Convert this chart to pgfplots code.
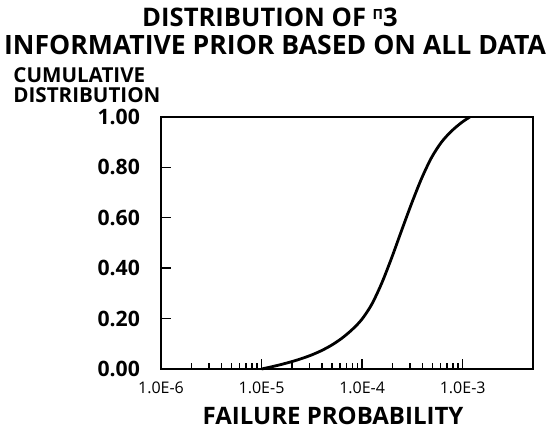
\documentclass[border=0pt]{standalone}
\usepackage{fontspec}
\setmainfont{Open Sans}
\usepackage{pgfplots}
\pgfplotsset{compat=1.18}
\begin{document}
\begin{tikzpicture}
\begin{axis}[
  name=ax,
  at={(0,0)}, anchor=south west,
  scale only axis,
  width=186pt, height=126pt,
  xmode=log,
  xmin=1e-6, xmax=5e-3,
  ymin=0, ymax=1,
  axis line style={line width=0.7pt},
  tick align=inside,
  xtick pos=bottom, ytick pos=left,
  major tick length=5pt, minor tick length=2.8pt,
  tick style={line width=0.7pt, black},
  xtick={1e-6,1e-5,1e-4,1e-3},
  xticklabels={1.0E-6,1.0E-5,1.0E-4,1.0E-3},
  ytick={0,0.2,0.4,0.6,0.8,1.0},
  yticklabels={0.00,0.20,0.40,0.60,0.80,1.00},
  xticklabel style={font=\fontsize{8}{9}\selectfont, yshift=-3pt},
  yticklabel style={font=\bfseries\fontsize{10.6}{12}\selectfont, anchor=east, xshift=-7pt},
  clip=false,
]
\addplot[line width=1.4pt, smooth, tension=0.5] coordinates {
  (1.000e-5, 0.0)
  (1.257e-5, 0.0087)
  (1.580e-5, 0.0183)
  (1.987e-5, 0.0290)
  (2.498e-5, 0.0413)
  (3.141e-5, 0.0556)
  (3.949e-5, 0.0731)
  (4.964e-5, 0.0945)
  (6.240e-5, 0.1211)
  (7.845e-5, 0.1541)
  (9.863e-5, 0.1954)
  (1.240e-4, 0.2550)
  (1.558e-4, 0.3384)
  (1.960e-4, 0.4396)
  (2.464e-4, 0.5488)
  (3.098e-4, 0.6560)
  (3.895e-4, 0.7554)
  (4.897e-4, 0.8388)
  (6.156e-4, 0.9003)
  (7.740e-4, 0.9440)
  (9.730e-4, 0.9778)
  (1.177e-3, 1.0)
};
\end{axis}
\node[font=\bfseries\fontsize{12.8}{14}\selectfont, anchor=center] at ([xshift=54.5pt, yshift=50pt]ax.north west) {DISTRIBUTION OF \raisebox{0.45ex}{\fontsize{7}{8}\selectfont Π}3};
\node[font=\bfseries\fontsize{13.3}{14}\selectfont, anchor=center] at ([xshift=57pt, yshift=36pt]ax.north west) {INFORMATIVE PRIOR BASED ON ALL DATA};
\node[font=\bfseries\fontsize{10.3}{11}\selectfont, anchor=west, inner sep=0pt] at ([xshift=-74pt, yshift=21pt]ax.north west) {CUMULATIVE};
\node[font=\bfseries\fontsize{10.3}{11}\selectfont, anchor=west, inner sep=0pt] at ([xshift=-74pt, yshift=11pt]ax.north west) {DISTRIBUTION};
\node[font=\bfseries\fontsize{12}{14}\selectfont, anchor=center] at ([xshift=86pt, yshift=-23.5pt]ax.south west) {FAILURE PROBABILITY};
\pgfresetboundingbox
\path[use as bounding box] ([xshift=-80.5pt, yshift=-32pt]ax.south west) rectangle ([xshift=8.5pt, yshift=58.5pt]ax.north east);
\end{tikzpicture}
\end{document}
